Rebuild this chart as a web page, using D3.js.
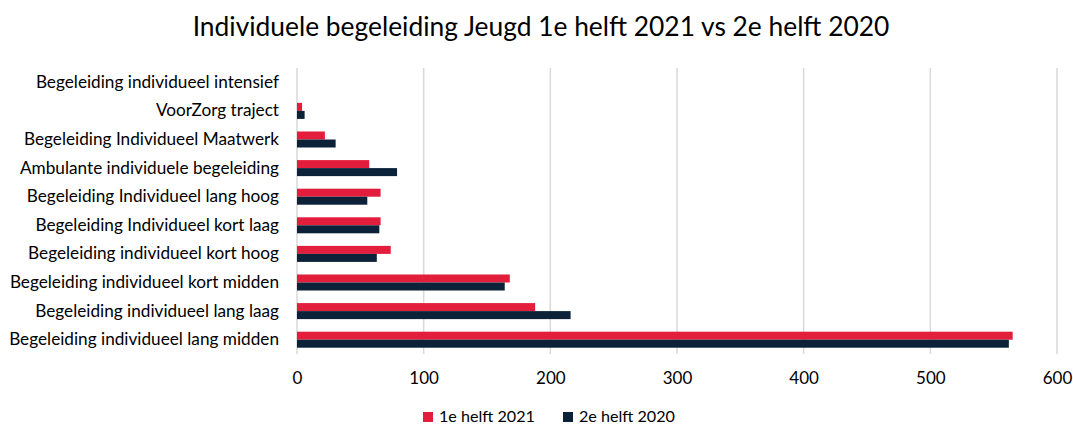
<!DOCTYPE html>
<html lang="nl">
<head>
<meta charset="utf-8">
<title>Individuele begeleiding Jeugd</title>
<script src="https://cdn.jsdelivr.net/npm/d3@7"></script>
<style>
  body { margin: 0; background: #fff; }
  text { font-family: Lato, "Open Sans", sans-serif; fill: #000; }
</style>
</head>
<body>
<script>
// Data
var categories = [
  "Begeleiding individueel intensief",
  "VoorZorg traject",
  "Begeleiding Individueel Maatwerk",
  "Ambulante individuele begeleiding",
  "Begeleiding Individueel lang hoog",
  "Begeleiding Individueel kort laag",
  "Begeleiding individueel kort hoog",
  "Begeleiding individueel kort midden",
  "Begeleiding individueel lang laag",
  "Begeleiding individueel lang midden"
];
var helft2021 = [0, 4, 22, 57, 66, 66, 74, 168, 188, 565];
var helft2020 = [0, 6, 30.5, 79, 55.5, 65, 63, 164, 216, 562];
var seriesNames = ["1e helft 2021", "2e helft 2020"];
var seriesColors = ["#e31d3c", "#0b2239"];
var xTicks = [0, 100, 200, 300, 400, 500, 600];

var w = 1073, h = 427;
var m = { left: 297, right: 1057, top: 68, bottom: 354 };

var svg = d3.select("body").append("svg")
  .attr("width", w).attr("height", h);

var x = d3.scaleLinear().domain([0, 600]).range([m.left, m.right]);
var y = d3.scaleBand().domain(categories).range([m.top, m.bottom]).paddingInner(0.44).paddingOuter(0.22);
var sub = d3.scaleBand().domain([0, 1]).range([0, y.bandwidth()]);

// fit a text's font size so it spans a given width
function fitWidth(sel, target) {
  var fs = parseFloat(sel.attr("font-size"));
  var len = sel.node().getComputedTextLength();
  return fs * target / len;
}

// Title
var title = svg.append("text")
  .attr("x", 541).attr("y", 36)
  .attr("text-anchor", "middle")
  .attr("font-size", 23)
  .text("Individuele begeleiding Jeugd 1e helft 2021 vs 2e helft 2020");
title.attr("font-size", fitWidth(title, 697));

// gridlines
svg.append("g").selectAll("line")
  .data(xTicks)
  .enter().append("line")
  .attr("x1", function(d) { return x(d); })
  .attr("x2", function(d) { return x(d); })
  .attr("y1", m.top).attr("y2", m.bottom)
  .attr("stroke", "#d9d9d9").attr("stroke-width", 1.5);

// bars
var series = [helft2021, helft2020];
series.forEach(function(vals, si) {
  svg.append("g").selectAll("rect")
    .data(vals)
    .enter().append("rect")
    .attr("x", x(0))
    .attr("y", function(d, i) { return y(categories[i]) + sub(si); })
    .attr("width", function(d) { return x(d) - x(0); })
    .attr("height", sub.bandwidth())
    .attr("fill", seriesColors[si]);
});

// x axis
var xAxis = d3.axisBottom(x).tickValues(xTicks).tickSize(0).tickPadding(18);
var gx = svg.append("g").attr("transform", "translate(0," + m.bottom + ")").call(xAxis);
gx.select(".domain").remove();
gx.attr("font-family", null);
gx.selectAll("text").attr("font-size", 17).attr("fill", "#000");

// y axis labels
var yAxis = d3.axisLeft(y).tickSize(0).tickPadding(18);
var gy = svg.append("g").attr("transform", "translate(" + m.left + ",0)").call(yAxis);
gy.select(".domain").remove();
gy.attr("font-family", null);
var labels = gy.selectAll("text").attr("font-size", 16).attr("fill", "#000");
var longest = labels.filter(function(d) { return d === categories[9]; });
labels.attr("font-size", fitWidth(longest, 270));

// legend
var legendX = [423, 563];
var lg = svg.append("g");
seriesNames.forEach(function(name, i) {
  lg.append("rect")
    .attr("x", legendX[i]).attr("y", 412)
    .attr("width", 10).attr("height", 10)
    .attr("fill", seriesColors[i]);
  var t = lg.append("text")
    .attr("x", legendX[i] + 16).attr("y", 422)
    .attr("font-size", 16)
    .text(name);
  t.attr("font-size", fitWidth(t, 96));
});
</script>
</body>
</html>
